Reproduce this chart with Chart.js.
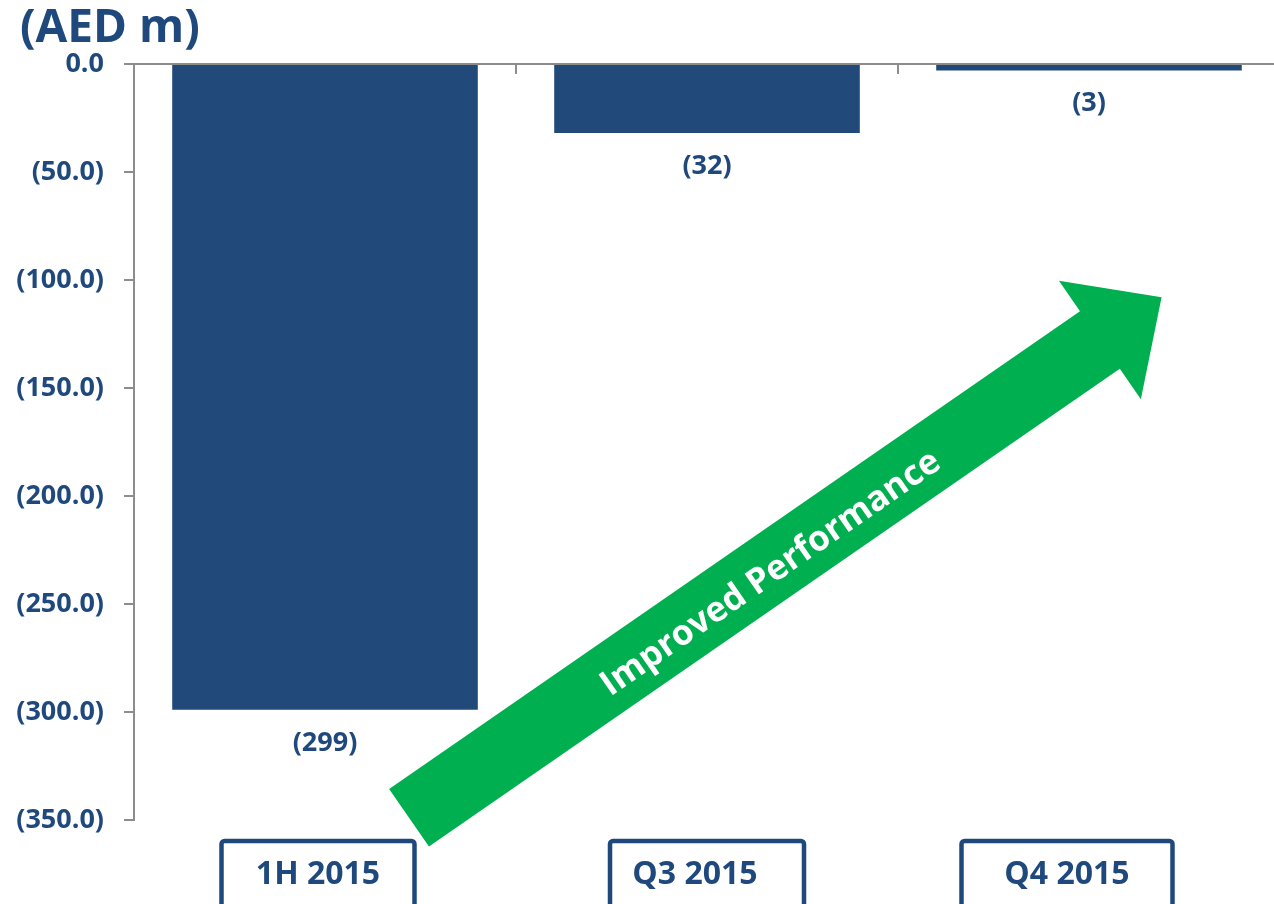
<!DOCTYPE html>
<html>
<head>
<meta charset="utf-8">
<script src="https://cdn.jsdelivr.net/npm/chart.js@4.4.1/dist/chart.umd.min.js"></script>
<style>
    html, body { margin: 0; padding: 0; background: #fff; overflow: hidden; }
    canvas { display: block; }
</style>
</head>
<body>
<canvas id="lossChart" width="1280" height="904"></canvas>
<script>
// Data
const periods = ['1H 2015', 'Q3 2015', 'Q4 2015'];
const netResult = [-299, -32, -3];
const valueLabels = ['(299)', '(32)', '(3)'];
const yMin = -350;
const yMax = 0;
const yStep = 50;
const unitTitle = '(AED m)';
const arrowText = 'Improved Performance';

// Styling
const blue = '#1F497D';
const barBlue = '#214A7B';
const green = '#00AF50';
const grey = '#8C8C8C';
const fontFamily = '"Open Sans", "Noto Sans", sans-serif';

// Box tweaks under each category (shift from category centre, width, text shift)
const boxShift = [-7, 0, -22];
const boxWidth = [193, 194, 211];
const boxTextShift = [0, -12, 0];

// Arrow in data units: x = category index, y = value
const arrowFrom = { x: 0.22, y: -349 };
const arrowTo = { x: 2.19, y: -108 };

function fmtTick(v) {
    if (v === 0) return '0.0';
    return '(' + Math.abs(v).toFixed(1) + ')';
}

const decorPlugin = {
    id: 'decor',
    afterDraw(chart) {
        const c = chart.ctx;
        const xs = chart.scales.x;
        const ys = chart.scales.y;
        const area = chart.chartArea;
        const zeroY = ys.getPixelForValue(0);

        c.save();

        // Title
        c.fillStyle = blue;
        c.font = 'bold 46px ' + fontFamily;
        c.textAlign = 'left';
        c.textBaseline = 'middle';
        c.fillText(unitTitle, 20, 29);

        // Category axis along zero line with ticks pointing down
        c.strokeStyle = grey;
        c.lineWidth = 2;
        c.beginPath();
        c.moveTo(area.left, zeroY);
        c.lineTo(area.right, zeroY);
        const step = (area.right - area.left) / periods.length;
        for (let i = 1; i < periods.length; i++) {
            const bx = Math.round(area.left + step * i);
            c.moveTo(bx, zeroY);
            c.lineTo(bx, zeroY + 10);
        }
        c.stroke();

        // Value labels below bars
        const meta = chart.getDatasetMeta(0);
        c.font = 'bold 27px ' + fontFamily;
        c.textAlign = 'center';
        c.textBaseline = 'middle';
        c.fillStyle = blue;
        meta.data.forEach((bar, i) => {
            c.fillText(valueLabels[i], bar.x, bar.y + 33);
        });

        // Boxed category labels
        c.font = 'bold 32px ' + fontFamily;
        periods.forEach((p, i) => {
            const cx = xs.getPixelForValue(i) + boxShift[i];
            const w = boxWidth[i];
            c.strokeStyle = blue;
            c.lineWidth = 4.5;
            c.beginPath();
            c.roundRect(cx - w / 2, 841, w, 100, 3);
            c.stroke();
            c.fillStyle = blue;
            c.fillText(p, cx + boxTextShift[i], 875);
        });

        // Green arrow
        const x0 = xs.getPixelForValue(arrowFrom.x);
        const y0 = ys.getPixelForValue(arrowFrom.y);
        const x1 = xs.getPixelForValue(arrowTo.x);
        const y1 = ys.getPixelForValue(arrowTo.y);
        const len = Math.hypot(x1 - x0, y1 - y0);
        const ang = Math.atan2(y1 - y0, x1 - x0);
        const shaftHalf = 35;
        const headHalf = 72;
        const headLen = 75;

        c.translate(x0, y0);
        c.rotate(ang);
        c.fillStyle = green;
        c.beginPath();
        c.moveTo(0, -shaftHalf);
        c.lineTo(len - headLen, -shaftHalf);
        c.lineTo(len - headLen, -headHalf);
        c.lineTo(len, 0);
        c.lineTo(len - headLen, headHalf);
        c.lineTo(len - headLen, shaftHalf);
        c.lineTo(0, shaftHalf);
        c.closePath();
        c.fill();

        c.fillStyle = '#FFFFFF';
        c.font = 'bold 35px ' + fontFamily;
        c.textAlign = 'center';
        c.textBaseline = 'middle';
        c.fillText(arrowText, len * 0.477, 5);

        c.restore();
    }
};

const chart = new Chart(document.getElementById('lossChart').getContext('2d'), {
    type: 'bar',
    data: {
        labels: periods,
        datasets: [{
            data: netResult,
            backgroundColor: barBlue,
            borderWidth: 0,
            barPercentage: 0.8,
            categoryPercentage: 1.0
        }]
    },
    options: {
        responsive: false,
        animation: false,
        layout: { padding: { top: 64, bottom: 84, left: 0, right: 0 } },
        plugins: {
            legend: { display: false },
            tooltip: { enabled: false }
        },
        scales: {
            x: { display: false, offset: true },
            y: {
                min: yMin,
                max: yMax,
                afterFit: (s) => { s.width = 134; },
                border: { display: true, color: grey, width: 2 },
                grid: { drawOnChartArea: false, drawTicks: true, tickLength: 10, color: grey, lineWidth: 2 },
                ticks: {
                    stepSize: yStep,
                    padding: 20,
                    color: blue,
                    font: { family: fontFamily, size: 27, weight: 'bold' },
                    callback: (v) => fmtTick(v)
                }
            }
        }
    },
    plugins: [decorPlugin]
});
</script>
</body>
</html>
